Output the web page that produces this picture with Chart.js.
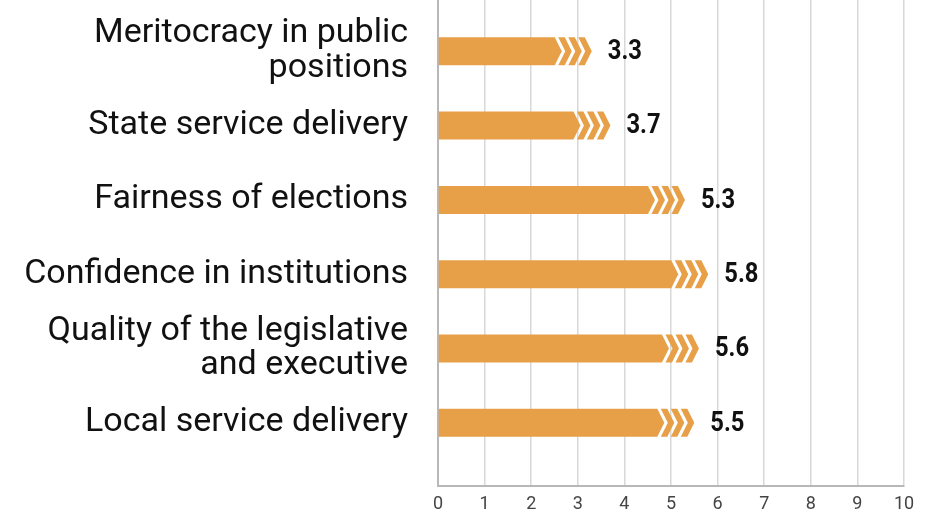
<!DOCTYPE html>
<html lang="en">

<head>
    <meta charset="UTF-8">
    <title>Governance indicators</title>
    <script src="https://cdn.jsdelivr.net/npm/chart.js"></script>
    <style>
        body { margin: 0; background: #fff; }
        #wrap { width: 935px; height: 513px; position: relative; }
    </style>
</head>

<body>
    <div id="wrap">
        <canvas id="govChart"></canvas>
    </div>

    <script>
        // chart data
        const categories = [
            ['Meritocracy in public', 'positions'],
            ['State service delivery'],
            ['Fairness of elections'],
            ['Confidence in institutions'],
            ['Quality of the legislative', 'and executive'],
            ['Local service delivery']
        ];
        const scores = [3.3, 3.7, 5.3, 5.8, 5.6, 5.5];
        const xTicks = [0, 1, 2, 3, 4, 5, 6, 7, 8, 9, 10];

        const barColor = '#E7A048';

        // draws the bar body with the chevron tail, plus the value label
        const chevronBars = {
            id: 'chevronBars',
            afterDatasetsDraw(chart) {
                const ctx = chart.ctx;
                const meta = chart.getDatasetMeta(0);
                meta.data.forEach((bar, i) => {
                    const tip = bar.x, base = bar.base;
                    const top = bar.y - bar.height / 2, bot = bar.y + bar.height / 2, mid = bar.y;
                    const w = 6.5, g = 3.5, d = 7;
                    const B = tip - 3 * (w + g) - d;
                    ctx.save();
                    ctx.fillStyle = barColor;
                    // body
                    ctx.beginPath();
                    ctx.moveTo(base, top);
                    ctx.lineTo(B, top);
                    ctx.lineTo(B + d, mid);
                    ctx.lineTo(B, bot);
                    ctx.lineTo(base, bot);
                    ctx.closePath();
                    ctx.fill();
                    // three chevrons
                    for (let k = 0; k < 3; k++) {
                        const s = B + g + k * (w + g);
                        ctx.beginPath();
                        ctx.moveTo(s, top);
                        ctx.lineTo(s + w, top);
                        ctx.lineTo(s + w + d, mid);
                        ctx.lineTo(s + w, bot);
                        ctx.lineTo(s, bot);
                        ctx.lineTo(s + d, mid);
                        ctx.closePath();
                        ctx.fill();
                    }
                    // value label (narrowed bold)
                    ctx.translate(tip + 16, mid + 1);
                    ctx.scale(0.88, 1);
                    ctx.fillStyle = '#111';
                    ctx.font = 'bold 27px Roboto';
                    ctx.textAlign = 'left';
                    ctx.textBaseline = 'middle';
                    ctx.fillText(scores[i].toFixed(1), 0, 0);
                    ctx.restore();
                });
            }
        };

        const ctx = document.getElementById('govChart').getContext('2d');
        new Chart(ctx, {
            type: 'bar',
            data: {
                datasets: [{
                    data: scores.map((v, i) => ({ x: v, y: i })),
                    backgroundColor: 'rgba(0,0,0,0)',
                    borderWidth: 0,
                    barThickness: 28
                }]
            },
            options: {
                indexAxis: 'y',
                responsive: true,
                maintainAspectRatio: false,
                animation: false,
                layout: { padding: { top: 0, right: 31, bottom: 0, left: 0 } },
                plugins: {
                    legend: { display: false },
                    tooltip: { enabled: false }
                },
                scales: {
                    x: {
                        type: 'linear',
                        min: 0,
                        max: 10,
                        afterBuildTicks: s => { s.ticks = xTicks.map(v => ({ value: v })); },
                        afterFit: s => { s.height = 27; s.paddingLeft = 0; s.paddingRight = 0; },
                        grid: { color: '#d8d8d8', lineWidth: 1.5, drawTicks: false },
                        border: { color: '#b8b8b8', width: 2 },
                        ticks: {
                            color: '#444',
                            padding: 8,
                            font: { family: 'Roboto', size: 18 }
                        }
                    },
                    y: {
                        type: 'linear',
                        reverse: true,
                        offset: false,
                        min: -0.69,
                        max: 5.85,
                        afterBuildTicks: s => { s.ticks = categories.map((c, i) => ({ value: i })); },
                        afterFit: s => { s.width = 438; s.paddingTop = 0; s.paddingBottom = 0; },
                        grid: { display: false, drawTicks: false, offset: false },
                        border: { color: '#b8b8b8', width: 2 },
                        ticks: {
                            color: '#111',
                            padding: 30,
                            autoSkip: false,
                            font: { family: 'Roboto', size: 34, lineHeight: 1.02 },
                            callback: v => categories[v]
                        }
                    }
                }
            },
            plugins: [chevronBars]
        });
    </script>
</body>

</html>
